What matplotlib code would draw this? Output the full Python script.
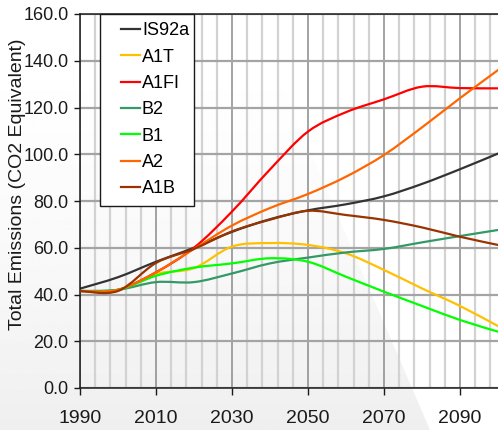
import numpy as np
import matplotlib
matplotlib.use("Agg")
import matplotlib.pyplot as plt
from matplotlib import font_manager
from matplotlib.path import Path
from matplotlib.patches import PathPatch, Polygon
from matplotlib.lines import Line2D
from matplotlib.legend_handler import HandlerLine2D

# ---- data (emissions, CO2 equivalent) ----
years = [1990, 2000, 2010, 2020, 2030, 2040, 2050, 2060, 2070, 2080, 2090, 2100]
is92a = [42.5, 47.4, 54.0, 60.0, 66.8, 72.2, 76.0, 78.6, 82.0, 87.3, 93.6, 100.3]
a1t = [41.5, 42.0, 48.8, 51.3, 60.5, 62.0, 61.2, 57.6, 50.5, 42.6, 35.1, 26.5]
a1fi = [41.5, 42.0, 49.5, 60.0, 75.5, 93.5, 109.7, 118.0, 123.5, 128.9, 128.3, 128.2]
b2 = [41.5, 42.0, 45.3, 45.3, 49.0, 53.3, 55.8, 58.0, 59.5, 62.3, 65.0, 67.6]
b1 = [41.5, 42.0, 48.0, 51.5, 53.3, 55.5, 54.0, 47.6, 41.2, 35.1, 29.1, 24.1]
a2 = [41.5, 42.0, 49.5, 59.5, 69.5, 77.0, 83.0, 90.4, 99.7, 111.5, 124.0, 136.0]
a1b = [41.5, 41.5, 53.5, 59.5, 67.0, 72.0, 75.8, 74.0, 71.9, 68.7, 64.7, 61.2]

series_names = ["IS92a", "A1T", "A1FI", "B2", "B1", "A2", "A1B"]
series_values = [is92a, a1t, a1fi, b2, b1, a2, a1b]
series_colors = ["#333333", "#FFC000", "#FF0000", "#339966", "#00FF00", "#FF6600", "#993300"]

y_ticks = [0, 20, 40, 60, 80, 100, 120, 140, 160]
x_ticks = [1990, 2010, 2030, 2050, 2070, 2090]

# ---- fonts ----
installed = {f.name for f in font_manager.fontManager.ttflist}
if "Liberation Sans Narrow" in installed:
    FONT = ["Liberation Sans Narrow", "DejaVu Sans"]
else:
    FONT = ["Liberation Sans", "DejaVu Sans"]
plt.rcParams["font.family"] = FONT


def smooth_path(xs, ys):
    """Smoothed polyline (Catmull-Rom style cubic Bezier through the points)."""
    pts = np.column_stack([xs, ys]).astype(float)
    n = len(pts)
    verts = [pts[0]]
    codes = [Path.MOVETO]
    for i in range(n - 1):
        p0 = pts[i - 1] if i > 0 else pts[i]
        p1 = pts[i]
        p2 = pts[i + 1]
        p3 = pts[i + 2] if i + 2 < n else pts[i + 1]
        verts += [p1 + (p2 - p0) / 6.0, p2 - (p3 - p1) / 6.0, p2]
        codes += [Path.CURVE4] * 3
    return Path(verts, codes)


class InsetLine(HandlerLine2D):
    """Legend line drawn in the right part of the handle box."""
    def get_xdata(self, legend, xdescent, ydescent, width, height, fontsize):
        x0 = -xdescent + width * 0.42
        x1 = -xdescent + width
        return np.array([x0, x1]), np.array([x0, x1])


W, H = 498, 430
fig = plt.figure(figsize=(W / 100, H / 100), dpi=100)
fig.patch.set_facecolor("white")

# soft grey backdrop on the left, white wedge to the right
bg = fig.add_axes([0, 0, 1, 1], zorder=0)
bg.set_axis_off()
t = np.linspace(0.0, 1.0, 256)
grad = (1.0 - 0.065 * t ** 1.8).reshape(-1, 1)
im = bg.imshow(grad, cmap="gray", vmin=0, vmax=1, extent=[0, 1, 0, 1],
               aspect="auto", origin="upper", interpolation="bilinear")
wedge = Polygon([(0, 1), (245 / W, 1), (430 / W, 0), (0, 0)], closed=True,
                transform=bg.transAxes, facecolor="none", edgecolor="none")
bg.add_patch(wedge)
im.set_clip_path(wedge)
bg.set_xlim(0, 1)
bg.set_ylim(0, 1)

# ---- main chart ----
ax = fig.add_axes([80 / W, (H - 388) / H, 418 / W, 374 / H], zorder=1)
ax.set_facecolor("none")
ax.set_xlim(1990, 2100)
ax.set_ylim(0, 160)

ax.set_xticks(x_ticks)
ax.set_xticks(np.arange(1990, 2100, 4), minor=True)
ax.set_yticks(y_ticks)
ax.set_yticklabels([f"{v:.1f}" for v in y_ticks])
ax.set_xticklabels([str(v) for v in x_ticks])

ax.grid(True, which="minor", axis="x", color="#d2d2d2", lw=1.6, zorder=0)
ax.grid(True, which="major", axis="x", color="#8a8a8a", lw=1.1, zorder=0.1)
ax.grid(True, which="major", axis="y", color="#a4a4a4", lw=1.6, zorder=0.1)
ax.set_axisbelow(True)

ax.tick_params(axis="x", which="major", direction="out", length=5, width=1,
               pad=10.5, labelsize=14, colors="#1a1a1a")
ax.tick_params(axis="x", which="minor", length=0)
ax.tick_params(axis="y", which="major", direction="out", length=4.3, width=1,
               pad=4.0, labelsize=13, colors="#1a1a1a")

for side in ("left", "bottom", "top"):
    ax.spines[side].set_color("#1a1a1a")
    ax.spines[side].set_linewidth(1.1)
ax.spines["right"].set_visible(False)

ax.set_ylabel("Total Emissions (CO2 Equivalent)", fontsize=14, color="#1a1a1a")
ax.yaxis.set_label_coords(-0.128, 0.545)

handles = []
for k, (name, vals, col) in enumerate(zip(series_names, series_values, series_colors)):
    patch = PathPatch(smooth_path(years, vals), fill=False, edgecolor=col,
                      lw=1.6, capstyle="round", joinstyle="round", zorder=2 + k * 0.1)
    ax.add_patch(patch)
    handles.append(Line2D([], [], color=col, lw=1.6, label=name))

fs_leg = 13
leg = ax.legend(handles=handles, loc="upper left",
                bbox_to_anchor=(20 / 418, (388 - 202) / 374, 94 / 418, 1 - (388 - 202) / 374),
                mode="expand", borderaxespad=0, fontsize=fs_leg, frameon=True,
                fancybox=False, framealpha=1, edgecolor="#1a1a1a",
                handlelength=1.75, handletextpad=0.12, labelspacing=0.52,
                borderpad=0.45, handler_map={Line2D: InsetLine()})
leg.get_frame().set_linewidth(1.0)
leg.set_zorder(10)

fig.savefig("out.png", dpi=100)
